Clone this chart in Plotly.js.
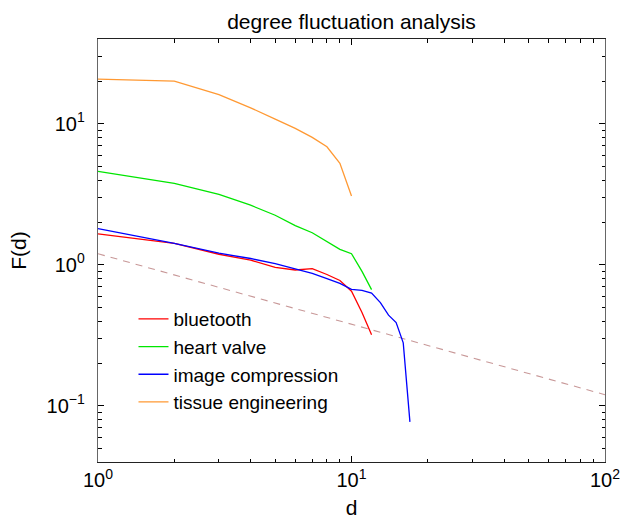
<!DOCTYPE html>
<html>
<head>
<meta charset="utf-8">
<script src="https://cdn.plot.ly/plotly-3.0.1.min.js"></script>
<style>html,body{margin:0;padding:0;background:#fff;}#chart{width:621px;height:519px;}</style>
</head>
<body>
<div id="chart"></div>
<script>
// data
const seriesNames = ["bluetooth", "heart valve", "image compression", "tissue engineering"];
const dBluetooth = [1,2,3,4,5,6,7,8,9,10,11,12];
const fBluetooth = [1.66,1.42,1.19,1.08,0.96,0.92,0.94,0.855,0.775,0.65,0.46,0.32];
const dHeart = [1,2,3,4,5,6,7,8,9,10,11,12];
const fHeart = [4.6,3.79,3.16,2.65,2.25,1.9,1.69,1.475,1.29,1.2,0.9,0.668];
const dImage = [1,2,3,4,5,6,7,8,9,10,11,12,13,14,15,16,17];
const fImage = [1.81,1.42,1.21,1.11,1.02,0.93,0.87,0.80,0.74,0.67,0.66,0.63,0.54,0.44,0.39,0.28,0.077];
const dTissue = [1,2,3,4,5,6,7,8,9,10];
const fTissue = [20.8,20.1,16.1,13.0,10.8,9.3,8.03,6.88,5.25,3.08];
const dRef = [1, 100];
const fRef = [1.2, 0.12];

const xTickVals = [1, 10, 100];
const xTickText = ["10<sup>0</sup>", "10<sup>1</sup>", "10<sup>2</sup>"];
const yTickVals = [0.1, 1, 10];
const yTickText = ["10<sup>−1</sup>", "10<sup>0</sup>", "10<sup>1</sup>"];
const xMinor = [2,3,4,5,6,7,8,9,20,30,40,50,60,70,80,90];
const yMinor = [0.04,0.05,0.06,0.07,0.08,0.09,0.2,0.3,0.4,0.5,0.6,0.7,0.8,0.9,2,3,4,5,6,7,8,9,20,30,40];

const colors = ["#ff0000", "#00e600", "#0000ff", "#ff9933"];
const lw = 1.3;

const traces = [
  {x: dRef, y: fRef, mode: "lines", showlegend: false, hoverinfo: "skip",
   line: {color: "#c89898", width: 1.1, dash: "7px,6px"}},
  {x: dBluetooth, y: fBluetooth, name: seriesNames[0], mode: "lines", line: {color: colors[0], width: lw}},
  {x: dHeart, y: fHeart, name: seriesNames[1], mode: "lines", line: {color: colors[1], width: lw}},
  {x: dImage, y: fImage, name: seriesNames[2], mode: "lines", line: {color: colors[2], width: lw}},
  {x: dTissue, y: fTissue, name: seriesNames[3], mode: "lines", line: {color: colors[3], width: lw}}
];

const font = {family: "Liberation Sans, Arial, sans-serif", color: "#000"};

const layout = {
  width: 621, height: 519,
  margin: {l: 98, r: 16, t: 39, b: 57},
  paper_bgcolor: "#fff", plot_bgcolor: "#fff",
  font: Object.assign({size: 20}, font),
  showlegend: true,
  title: {text: "degree fluctuation analysis", font: Object.assign({size: 21}, font),
          x: 0.5, xref: "paper", xanchor: "center", y: 0.958, yref: "container", yanchor: "middle"},
  xaxis: {
    type: "log", range: [0, 2],
    tickvals: xTickVals, ticktext: xTickText, ticklabeloverflow: "allow",
    ticks: "inside", ticklen: 6, tickcolor: "#000", tickwidth: 1,
    showline: true, linecolor: "#222", linewidth: 1.2, mirror: "allticks",
    showgrid: false, zeroline: false,
    tickfont: Object.assign({size: 20}, font),
    minor: {tickvals: xMinor, ticks: "inside", ticklen: 3.5, tickcolor: "#000", showgrid: false},
    title: {text: "d", font: Object.assign({size: 21}, font), standoff: 10}
  },
  yaxis: {
    type: "log", range: [Math.log10(0.04), Math.log10(40)],
    tickvals: yTickVals, ticktext: yTickText,
    ticks: "inside", ticklen: 6, tickcolor: "#000", tickwidth: 1,
    showline: true, linecolor: "#666", linewidth: 1.2, mirror: "allticks",
    showgrid: false, zeroline: false, ticklabelstandoff: 8,
    tickfont: Object.assign({size: 20}, font),
    minor: {tickvals: yMinor, ticks: "inside", ticklen: 3.5, tickcolor: "#000", showgrid: false},
    title: {text: "F(d)", font: Object.assign({size: 21}, font), standoff: 14}
  },
  legend: {x: 0.07, y: 0.383, xanchor: "left", yanchor: "top", bgcolor: "rgba(0,0,0,0)",
           font: Object.assign({size: 19}, font), itemwidth: 30, tracegroupgap: 0}
};

Plotly.newPlot("chart", traces, layout, {displayModeBar: false, staticPlot: true});
</script>
</body>
</html>
